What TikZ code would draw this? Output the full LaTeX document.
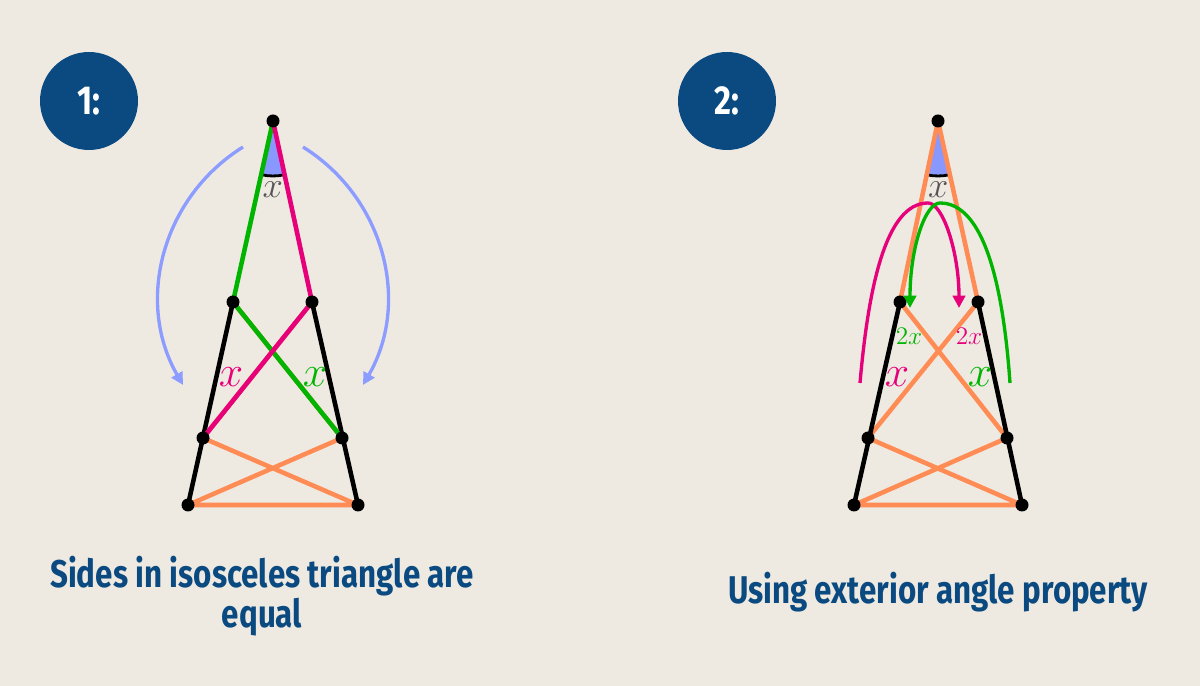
\documentclass[tikz,border=0pt]{standalone}
\usepackage{fontspec}
\usepackage{amsmath}
\usetikzlibrary{angles,arrows.meta}
\newfontfamily\capfont[FakeStretch=0.81]{Fira Sans}
\definecolor{bgcol}{HTML}{EEEAE2}
\definecolor{navy}{HTML}{0B4A80}
\definecolor{grn}{HTML}{00B400}
\definecolor{mag}{HTML}{E6007A}
\definecolor{org}{HTML}{FF8C55}
\definecolor{lblue}{HTML}{8C9CFF}
\definecolor{wedgeblue}{HTML}{8898FF}
\definecolor{xgray}{HTML}{555555}

\begin{document}
\begin{tikzpicture}[x=0.02cm, y=0.02cm,
  side/.style={line width=2.6pt, line cap=round},
  curvearr/.style={line width=1.9pt, -{Triangle[length=7pt,width=7pt]}},
  lbl/.style={font=\fontsize{24}{24}\selectfont},
  small lbl/.style={font=\fontsize{15}{15}\selectfont, inner sep=0pt},
  wedge/.style={draw=black, line width=1.6pt, fill=wedgeblue, angle radius=1.1cm,
    pic text={$x$}, angle eccentricity=1.24,
    pic text options={text=xgray, font=\fontsize{21}{21}\selectfont}},
  badge/.style={circle, fill=navy, minimum size=1.96cm, text=white,
    font=\capfont\bfseries\fontsize{23}{23}\selectfont},
  captext/.style={text=navy, align=center, font=\capfont\bfseries\fontsize{22}{19}\selectfont}]
  \useasboundingbox[fill=bgcol] (0,0) rectangle (1200,686);

  \node [badge] (n1) at (89,585) {1:};
  \node [badge] (n2) at (727,585) {2:};

  \coordinate (A1) at (273,565);
  \coordinate (B1) at (233,384);
  \coordinate (C1) at (312,384);
  \coordinate (D1) at (203,248);
  \coordinate (E1) at (342,248);
  \coordinate (F1) at (188,181);
  \coordinate (G1) at (358,181);

  \coordinate (A2) at (938,565);
  \coordinate (B2) at (900,384);
  \coordinate (C2) at (978,384);
  \coordinate (D2) at (868,248);
  \coordinate (E2) at (1007,248);
  \coordinate (F2) at (854,181);
  \coordinate (G2) at (1022,181);

  \pic [wedge] {angle=B1--A1--C1};
  \pic [wedge] {angle=B2--A2--C2};

  \draw [side, org] (D1) -- (G1) (E1) -- (F1) (F1) -- (G1) (B1) -- (E1) (C1) -- (D1);
  \draw [side] (B1) -- (F1) (C1) -- (G1);
  \draw [side, grn] (A1) -- (B1) -- (E1);
  \draw [side, mag] (A1) -- (C1) -- (D1);

  \draw [side, org] (A2) -- (B2) (A2) -- (C2) (B2) -- (E2) (C2) -- (D2)
    (D2) -- (G2) (E2) -- (F2) (F2) -- (G2);
  \draw [side] (B2) -- (F2) (C2) -- (G2);

  \foreach \p in {A1,B1,C1,D1,E1,F1,G1,A2,B2,C2,D2,E2,F2,G2}
    \fill (\p) circle (0.13cm);

  \coordinate (la) at (243,539);
  \coordinate (lb) at (183,301);
  \coordinate (ra) at (303,539);
  \coordinate (rb) at (363,301);
  \draw [curvearr, lblue] (la) to[out=212, in=120] (lb);
  \draw [curvearr, lblue] (ra) to[out=-32, in=60] (rb);

  \coordinate (ma) at (860,303);
  \coordinate (mp) at (928,483);
  \coordinate (mb) at (959,378);
  \coordinate (ga) at (1010,303);
  \coordinate (gp) at (940,483);
  \coordinate (gb) at (910,378);
  \draw [curvearr, mag] (ma) to[out=85, in=180, out looseness=1.24, in looseness=0.57] (mp)
    to[out=0, in=90, out looseness=0.35, in looseness=1.3] (mb);
  \draw [curvearr, grn] (ga) to[out=94, in=0, out looseness=1.23, in looseness=0.6] (gp)
    to[out=180, in=90, out looseness=0.35, in looseness=1.4] (gb);

  \node [lbl, mag] (xm1) at (231,309) {$x$};
  \node [lbl, grn] (xg1) at (315,309) {$x$};
  \node [small lbl, grn] (tg2) at (909,350) {$2x$};
  \node [small lbl, mag] (tm2) at (969,350) {$2x$};
  \node [lbl, mag] (xm2) at (897,309) {$x$};
  \node [lbl, grn] (xg2) at (980,309) {$x$};

  \node [captext] (cap1) at (262,90) {Sides in isosceles triangle are\\equal};
  \node [captext] (cap2) at (938,94) {Using exterior angle property};
\end{tikzpicture}
\end{document}
